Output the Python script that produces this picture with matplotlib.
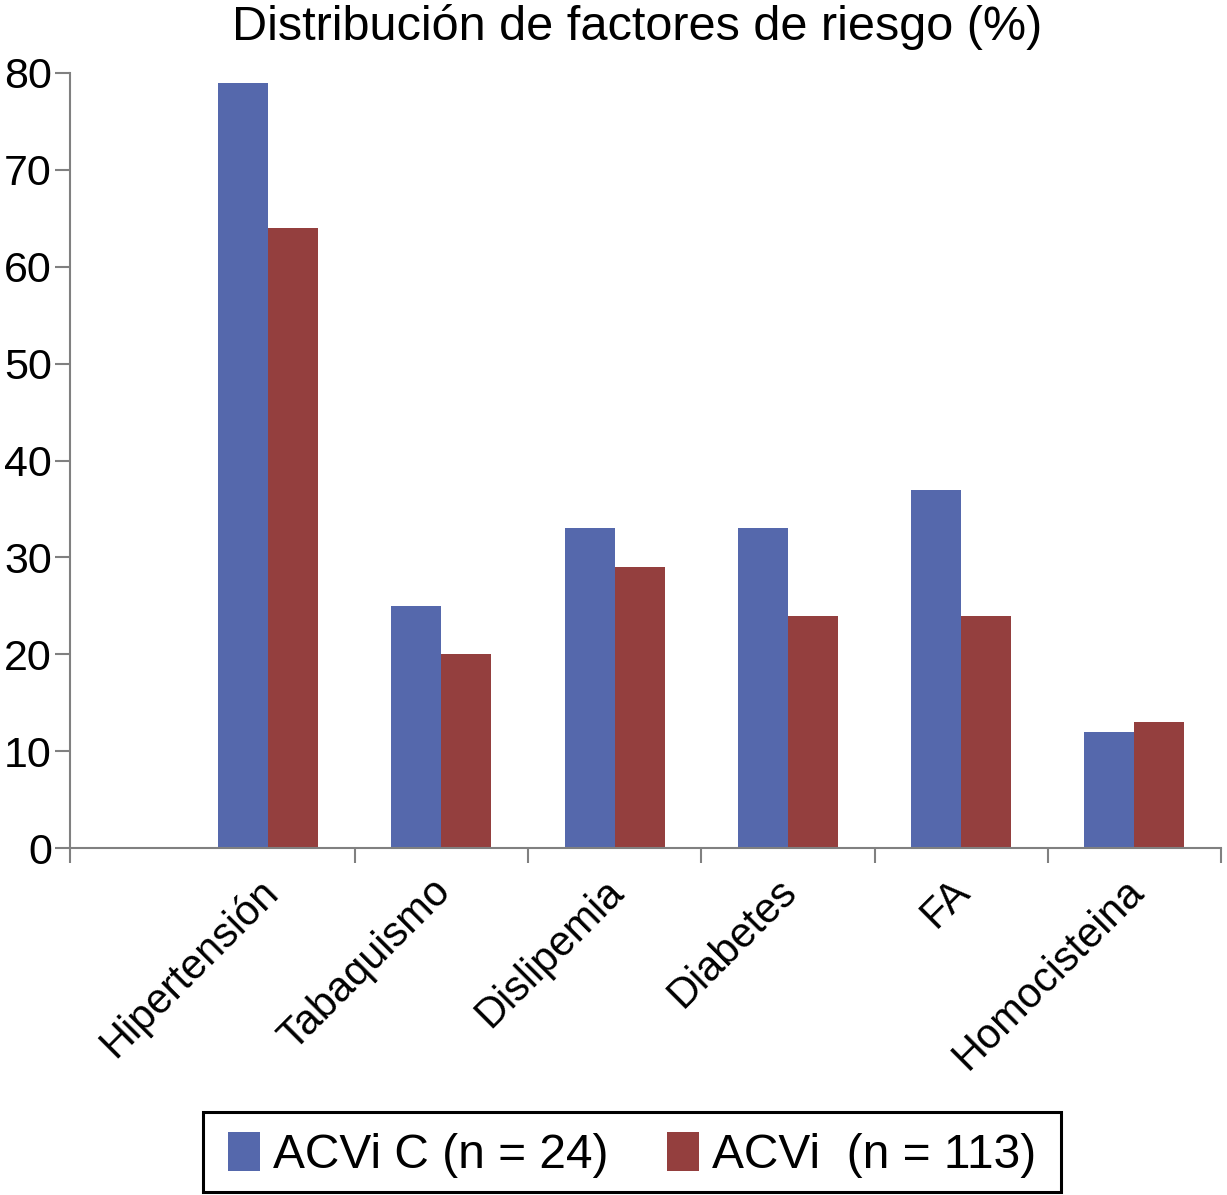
import matplotlib
matplotlib.use("Agg")
import matplotlib.pyplot as plt
from matplotlib.transforms import ScaledTranslation
from matplotlib.patches import Rectangle
import numpy as np

categories = ["Hipertensión", "Tabaquismo", "Dislipemia", "Diabetes", "FA", "Homocisteina"]
acvi_c = [79, 25, 33, 33, 37, 12]
acvi = [64, 20, 29, 24, 24, 13]
y_ticks = [0, 10, 20, 30, 40, 50, 60, 70, 80]
series_labels = ["ACVi C (n = 24)", "ACVi  (n = 113)"]
title = "Distribución de factores de riesgo (%)"

plt.rcParams['font.family'] = ['Liberation Sans', 'DejaVu Sans']

W, H = 1227, 1195
fig = plt.figure(figsize=(W / 100, H / 100), dpi=100)
ax = fig.add_axes([70 / W, 1 - 848 / H, (1221 - 70) / W, (848 - 73) / H])

blue = "#5568AC"
red = "#943F3E"
x = np.arange(len(categories))
bw = 0.289
ax.bar(x - bw / 2, acvi_c, width=bw, color=blue, label=series_labels[0])
ax.bar(x + bw / 2, acvi, width=bw, color=red, label=series_labels[1])

left = -1.144
ax.set_xlim(left, len(categories) - 0.5)
ax.set_ylim(0, 80)
ax.set_yticks(y_ticks)
ax.set_yticklabels([str(v) for v in y_ticks], fontsize=31)

bounds = [left] + [i + 0.5 for i in range(len(categories))]
ax.set_xticks(bounds)
ax.set_xticklabels([""] * len(bounds))
ax.set_xticks(x, minor=True)
ax.set_xticklabels(categories, minor=True, rotation=45, ha="right",
                   va="top", rotation_mode="anchor", fontsize=30)
ax.tick_params(axis="x", which="minor", length=0, pad=18)
ax.tick_params(axis="x", which="major", length=11, width=1.5, color="#808080", direction="out")
ax.tick_params(axis="y", length=11, width=1.5, color="#808080", pad=2)
off = ScaledTranslation(-11 / 100, 2 / 100, fig.dpi_scale_trans)
for lab in ax.get_xticklabels(minor=True):
    lab.set_transform(lab.get_transform() + off)

for s in ["top", "right"]:
    ax.spines[s].set_visible(False)
for s in ["left", "bottom"]:
    ax.spines[s].set_color("#808080")
    ax.spines[s].set_linewidth(1.5)

fig.text(637 / W, 1 - 27 / H, title, fontsize=35, ha="center", va="center")

fs = 34.5
fpx = fs * 100 / 72
leg = fig.legend(loc="center", bbox_to_anchor=(632 / W, 1 - 1155 / H), ncol=2,
                 fontsize=fs, frameon=False,
                 handlelength=32 / fpx, handleheight=42 / fpx,
                 handletextpad=13 / fpx, columnspacing=58 / fpx,
                 borderpad=0, borderaxespad=0)

fig.canvas.draw()
bb = leg.get_window_extent(fig.canvas.get_renderer())
padx = 25
box_h = 80
cy = 1 - 1152 / H
rect = Rectangle((bb.x0 - padx, cy * H - box_h / 2),
                 bb.width + 2 * padx, box_h,
                 transform=None, fill=False, edgecolor="black", linewidth=2.2)
fig.add_artist(rect)

fig.savefig("out.png", dpi=100)
